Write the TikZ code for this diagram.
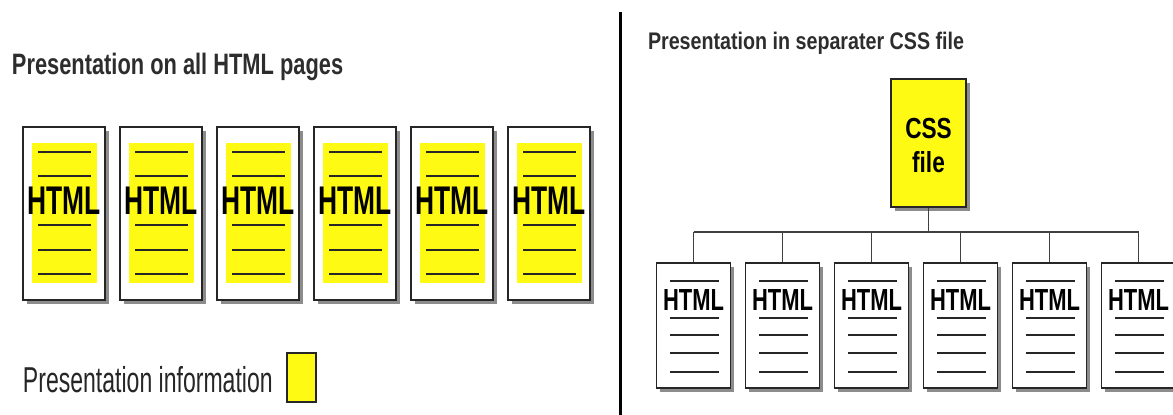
\documentclass[tikz,border=0pt]{standalone}
\usepackage{fontspec}
\usepackage{graphicx}
\setmainfont{Liberation Sans}
\usetikzlibrary{shadows,calc}
\definecolor{yel}{RGB}{255,250,20}
\definecolor{ttl}{RGB}{45,45,45}
\newcommand\sx[3]{\scalebox{#1}[1]{\fontsize{#2}{#2}\selectfont #3}}
\tikzset{
  pagebox/.style={draw=black!85, line width=1.8pt, fill=white, inner sep=0pt,
    drop shadow={shadow xshift=3.5pt, shadow yshift=-3.5pt, fill=black!45, opacity=1}},
  lpage/.style={pagebox, minimum width=82pt, minimum height=173pt},
  rpage/.style={pagebox, minimum width=74pt, minimum height=125pt},
  cssbox/.style={pagebox, fill=yel, minimum width=75pt, minimum height=128pt},
  docline/.style={draw=black!85, line width=2.8pt},
  conn/.style={draw=black!75, line width=1.9pt},
  lbl/.style={inner sep=0pt, outer sep=0pt},
}
\begin{document}
\begin{tikzpicture}[x=1pt, y=-1pt]
\useasboundingbox[fill=white] (0,0) rectangle (1173,415);
% titles
\node[lbl, anchor=base west, text=ttl] (t1) at (12,74) {\bfseries\sx{0.74}{29.5}{Presentation on all HTML pages}};
\node[lbl, anchor=base west, text=ttl] (t2) at (648,49) {\bfseries\sx{0.82}{24}{Presentation in separater CSS file}};
% divider
\coordinate (dtop) at (620,12);
\coordinate (dbot) at (620,415);
\draw[line width=3pt, black] (dtop) -- (dbot);
% left pages
\foreach \i/\x in {1/64,2/161,3/258,4/355,5/452,6/549} {
  \node[lpage] (L\i) at (\x,213.5) {};
  \fill[yel] ($(L\i)+(-32,-70.5)$) rectangle ($(L\i)+(33,69.5)$);
  \foreach \dy in {-61.5,-37.5,11.5,36.5,60.5}
    \draw[docline] ($(L\i)+(-26,\dy)$) -- ++(53,0);
  \node[lbl, anchor=base] (LT\i) at ($(L\i)+(0,0.5)$) {\bfseries\sx{0.66}{40}{HTML}};
}
% legend
\node[lbl, anchor=base west, text=black!85] (leg) at (23,392) {\sx{0.64}{36}{Presentation information}};
\node[draw=black!85, line width=1.5pt, fill=yel, minimum width=29pt, minimum height=49pt, inner sep=0pt] (legbox) at (301.5,377.5) {};
% CSS file
\node[cssbox] (css) at (928.5,143) {};
\node[lbl, anchor=base] (cssT) at ($(css)+(0,-5)$) {\bfseries\sx{0.78}{29}{CSS}};
\node[lbl, anchor=base] (fileT) at ($(css)+(0,29)$) {\bfseries\sx{0.78}{29}{file}};
% right pages
\coordinate (bar) at (693.5,232);
\foreach \i/\x in {1/693.5,2/782.5,3/871.5,4/960.5,5/1049.5,6/1138.5} {
  \node[rpage] (R\i) at (\x,325.5) {};
  \foreach \dy in {-44.5,-7.5,9.5,27.5,46.5}
    \draw[docline, line width=2.4pt] ($(R\i)+(-23.5,\dy)$) -- ++(48.5,0);
  \node[lbl, anchor=base] (RT\i) at ($(R\i)+(0,-15.5)$) {\bfseries\sx{0.72}{30.5}{HTML}};
  \draw[conn] (R\i.north |- bar) -- (R\i.north);
}
\draw[conn] (css.south) -- (css.south |- bar);
\draw[conn] (R1.north |- bar) -- (R6.north |- bar);
\end{tikzpicture}
\end{document}
